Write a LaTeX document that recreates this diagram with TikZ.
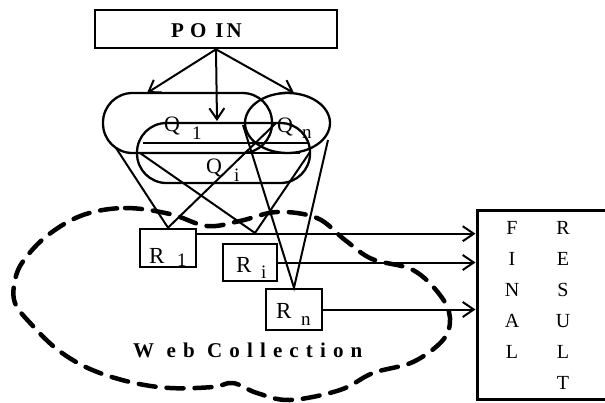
\documentclass[tikz,border=0pt]{standalone}
\usepackage{fontspec}
\setmainfont{Liberation Serif}
\usetikzlibrary{arrows.meta,shapes.geometric}
\begin{document}
\begin{tikzpicture}[x=1pt,y=-1pt,
  thinln/.style={line width=2pt},
  frame/.style={draw, line width=2.6pt, inner sep=0pt},
  query/.style={draw, line width=2.3pt, inner sep=0pt},
  flow/.style={line width=2pt, -{Straight Barb[length=11pt,width=15pt,line width=2pt]}},
  big/.style={inner sep=0pt, font=\fontsize{22}{22}\selectfont},
  sub/.style={inner sep=0pt, font=\fontsize{19}{19}\selectfont},
  collection/.style={line width=4.5pt, dash pattern=on 17pt off 11pt, line cap=round},
]
\useasboundingbox (0,0) rectangle (605,402);
\fill[white] (0,0) rectangle (605,402);
\begin{scope}
\clip (0,0) rectangle (605,402);

% the query box
\node[frame, minimum width=242pt, minimum height=38pt] (poin) at (216,29) {};
\node[inner sep=0pt, anchor=base west, font=\fontsize{21}{21}\selectfont\bfseries] (poinlbl) at (171,37)
  {P\hspace{6pt}O\hspace{9pt}I\hspace{3pt}N};

% the three sub-queries
\node[query, rounded corners=29.5pt, minimum width=169pt, minimum height=60pt] (q1) at (187.5,123) {};
\node[query, rounded corners=29.5pt, minimum width=173pt, minimum height=60pt] (qi) at (223.5,153) {};
\node[query, ellipse, minimum width=85pt, minimum height=60pt] (qn) at (287.5,123) {};
\draw[thinln] (143,143) -- (308,143);
\draw[thinln] (140,153) -- (300,153);

\node[big, anchor=base west] (q1l) at (164,131) {Q};
\node[sub, anchor=base west] (q1s) at (192,139) {1};
\node[big, anchor=base west] (qil) at (206,173) {Q};
\node[sub, anchor=base west] (qis) at (234,181) {i};
\node[big, anchor=base west] (qnl) at (277,132) {Q};
\node[sub, anchor=base west] (qns) at (302,138) {n};

% query split into sub-queries
\coordinate (q1top) at (147,93);
\coordinate (qitop) at (217,121);
\coordinate (qntop) at (294,93);
\draw[flow] (poin.south) -- (q1top);
\draw[flow] (poin.south) -- (qitop);
\draw[flow] (poin.south) -- (qntop);

% result boxes
\node[frame, minimum width=56pt, minimum height=38pt] (r1) at (168,248) {};
\node[frame, minimum width=54pt, minimum height=37pt] (ri) at (250,262.5) {};
\node[frame, minimum width=56pt, minimum height=41pt] (rn) at (294,309.5) {};
\node[big, anchor=base west, font=\fontsize{23}{23}\selectfont] (r1l) at (149,263) {R};
\node[sub, anchor=base west] (r1s) at (177,266) {1};
\node[big, anchor=base west, font=\fontsize{23}{23}\selectfont] (ril) at (236,272) {R};
\node[sub, anchor=base west] (ris) at (261,278) {i};
\node[big, anchor=base west, font=\fontsize{23}{23}\selectfont] (rnl) at (276,318) {R};
\node[sub, anchor=base west] (rns) at (301,325) {n};

% each sub-query retrieves its result
\coordinate (a1) at (116,148);
\coordinate (b1) at (276,123);
\coordinate (c1) at (140,153);
\coordinate (d1) at (310,152);
\coordinate (ritip) at (255,233);
\coordinate (e1) at (243,125);
\coordinate (f1) at (328,140);
\draw[thinln] (a1) -- (r1.north) -- (b1);
\draw[thinln] (c1) -- (ritip) -- (d1);
\draw[thinln] (e1) -- (rn.north) -- (f1);

% final result
\node[draw, line width=3pt, inner sep=0pt, minimum width=170pt, minimum height=189pt] (final) at (562,304.5) {};
\node[inner sep=0pt, anchor=north, align=center, font=\fontsize{20}{31}\selectfont] (finalw) at (512,221)
  {F\\I\\N\\A\\L};
\node[inner sep=0pt, anchor=north, align=center, font=\fontsize{20}{31}\selectfont] (resultw) at (563,221)
  {R\\E\\S\\U\\L\\T};

\coordinate (r1out) at ([yshift=-6pt]r1.north east);
\draw[flow] (r1out) -- (r1out -| final.west);
\draw[flow] (ri.east) -- (ri.east -| final.west);
\draw[flow] (rn.east) -- (rn.east -| final.west);

% the web collection
\draw[collection] plot[smooth cycle, tension=0.6] coordinates {
  (83,215) (125,208) (170,214) (207,226) (240,221) (277,212) (317,218) (345,240)
  (372,259) (413,270) (440,295) (450,318) (443,340) (413,362) (373,373) (340,390)
  (290,400) (257,393) (233,383) (213,387) (170,388) (130,382) (90,369) (58,350)
  (32,325) (15,303) (15,280) (24,260) (48,235)};
\node[inner sep=0pt, anchor=base west, font=\fontsize{21}{21}\selectfont\bfseries\addfontfeature{LetterSpace=34}] (web) at (133,357)
  {W eb Collection};
\end{scope}
\end{tikzpicture}
\end{document}
